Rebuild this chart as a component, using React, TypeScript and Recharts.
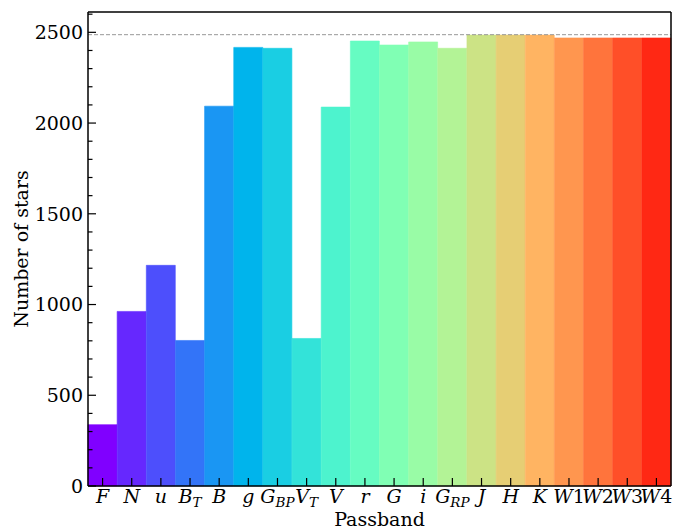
import React from 'react';
import { BarChart, Bar, XAxis, YAxis, Cell, ReferenceLine } from 'recharts';

// passband names, "_" marks a subscript
const passbands = ['F', 'N', 'u', 'B_T', 'B', 'g', 'G_BP', 'V_T', 'V', 'r', 'G', 'i', 'G_RP', 'J', 'H', 'K', 'W1', 'W2', 'W3', 'W4'];
const starCounts = [338, 962, 1216, 802, 2093, 2417, 2412, 813, 2088, 2452, 2430, 2447, 2412, 2485, 2485, 2485, 2469, 2469, 2469, 2469];
const totalStars = 2487;
const yMax = 2612;
const yTicks = [0, 100, 200, 300, 400, 500, 600, 700, 800, 900, 1000, 1100, 1200, 1300, 1400, 1500, 1600, 1700, 1800, 1900, 2000, 2100, 2200, 2300, 2400, 2500, 2600];

// rainbow colormap, one per passband
const barColors = [
  '#8000ff', '#6628fe', '#4d4ffc', '#3374f8', '#1a96f3', '#00b4ec', '#1acee3', '#33e3d9', '#4df3ce', '#66fcc2',
  '#80ffb4', '#99fca6', '#b3f396', '#cce385', '#e6ce74', '#ffb462', '#ff964f', '#ff743c', '#ff4f28', '#ff2814',
];

const data = passbands.map((band, i) => ({ band, count: starCounts[i] }));

const FONT = 'DejaVu Serif';
const FS = 19;

const bandLabel = (label: string) => {
  if (label.includes('_')) {
    const [main, sub] = label.split('_');
    return (
      <>
        <tspan fontStyle="italic">{main}</tspan>
        <tspan fontStyle="italic" fontSize={13.5} dy={4}>{sub}</tspan>
      </>
    );
  }
  const m = label.match(/^([A-Za-z])(\d)$/);
  if (m) {
    return (
      <>
        <tspan fontStyle="italic">{m[1]}</tspan>
        <tspan>{m[2]}</tspan>
      </>
    );
  }
  return <tspan fontStyle="italic">{label}</tspan>;
};

const XTick = (props: any) => {
  const { x, y, payload } = props;
  return (
    <g>
      <line x1={x} y1={y} x2={x} y2={y - 8} stroke="#000" strokeWidth={1.2} />
      <text x={x} y={y + 17} textAnchor="middle" fontFamily={FONT} fontSize={FS} fill="#000">
        {bandLabel(payload.value)}
      </text>
    </g>
  );
};

const LeftTick = (props: any) => {
  const { x, y, payload } = props;
  const major = payload.value % 500 === 0;
  return (
    <g>
      <line x1={x} y1={y} x2={x + (major ? 8 : 4.5)} y2={y} stroke="#000" strokeWidth={1.2} />
      {major && (
        <text x={x - 5} y={y} dy="0.36em" textAnchor="end" fontFamily={FONT} fontSize={FS} fill="#000">
          {payload.value}
        </text>
      )}
    </g>
  );
};

const RightTick = (props: any) => {
  const { x, y, payload } = props;
  const major = payload.value % 500 === 0;
  return <line x1={x} y1={y} x2={x - (major ? 8 : 4.5)} y2={y} stroke="#000" strokeWidth={1.2} />;
};

const YTitle = (props: any) => {
  const { viewBox } = props;
  const cx = viewBox.x + 21;
  const cy = viewBox.y + viewBox.height / 2;
  return (
    <text x={cx} y={cy} transform={`rotate(-90 ${cx} ${cy})`} textAnchor="middle" dy="0.36em" fontFamily={FONT} fontSize={FS} fill="#000">
      Number of stars
    </text>
  );
};

const XTitle = (props: any) => {
  const { viewBox } = props;
  return (
    <text x={viewBox.x + viewBox.width / 2} y={viewBox.y + 40} textAnchor="middle" fontFamily={FONT} fontSize={FS} fill="#000">
      Passband
    </text>
  );
};

export default function App() {
  return (
    <div style={{ position: 'absolute', left: 0, top: 0, width: 674, height: 528, background: '#fff' }}>
      <BarChart width={674} height={528} data={data} margin={{ top: 12, right: 0, left: 0, bottom: 0 }} barCategoryGap={0}>
        <XAxis
          dataKey="band"
          height={42}
          interval={0}
          tickSize={0}
          tickMargin={0}
          tickLine={false}
          axisLine={{ stroke: '#000', strokeWidth: 1.5 }}
          tick={<XTick />}
          label={<XTitle />}
        />
        <YAxis
          yAxisId="left"
          width={88}
          domain={[0, yMax]}
          ticks={yTicks}
          interval={0}
          tickSize={0}
          tickMargin={0}
          tickLine={false}
          axisLine={{ stroke: '#000', strokeWidth: 1.5 }}
          tick={<LeftTick />}
          label={<YTitle />}
        />
        <YAxis
          yAxisId="right"
          orientation="right"
          width={3}
          domain={[0, yMax]}
          ticks={yTicks}
          interval={0}
          tickSize={0}
          tickMargin={0}
          tickLine={false}
          axisLine={{ stroke: '#000', strokeWidth: 1.5 }}
          tick={<RightTick />}
        />
        <Bar yAxisId="left" dataKey="count" isAnimationActive={false}>
          {data.map((d, i) => (
            <Cell key={d.band} fill={barColors[i]} stroke={barColors[i]} strokeWidth={0.6} />
          ))}
        </Bar>
        <ReferenceLine yAxisId="left" y={totalStars} stroke="#999" strokeWidth={1} strokeDasharray="4 2" />
        <ReferenceLine yAxisId="left" y={yMax} stroke="#000" strokeWidth={1.5} />
      </BarChart>
    </div>
  );
}
